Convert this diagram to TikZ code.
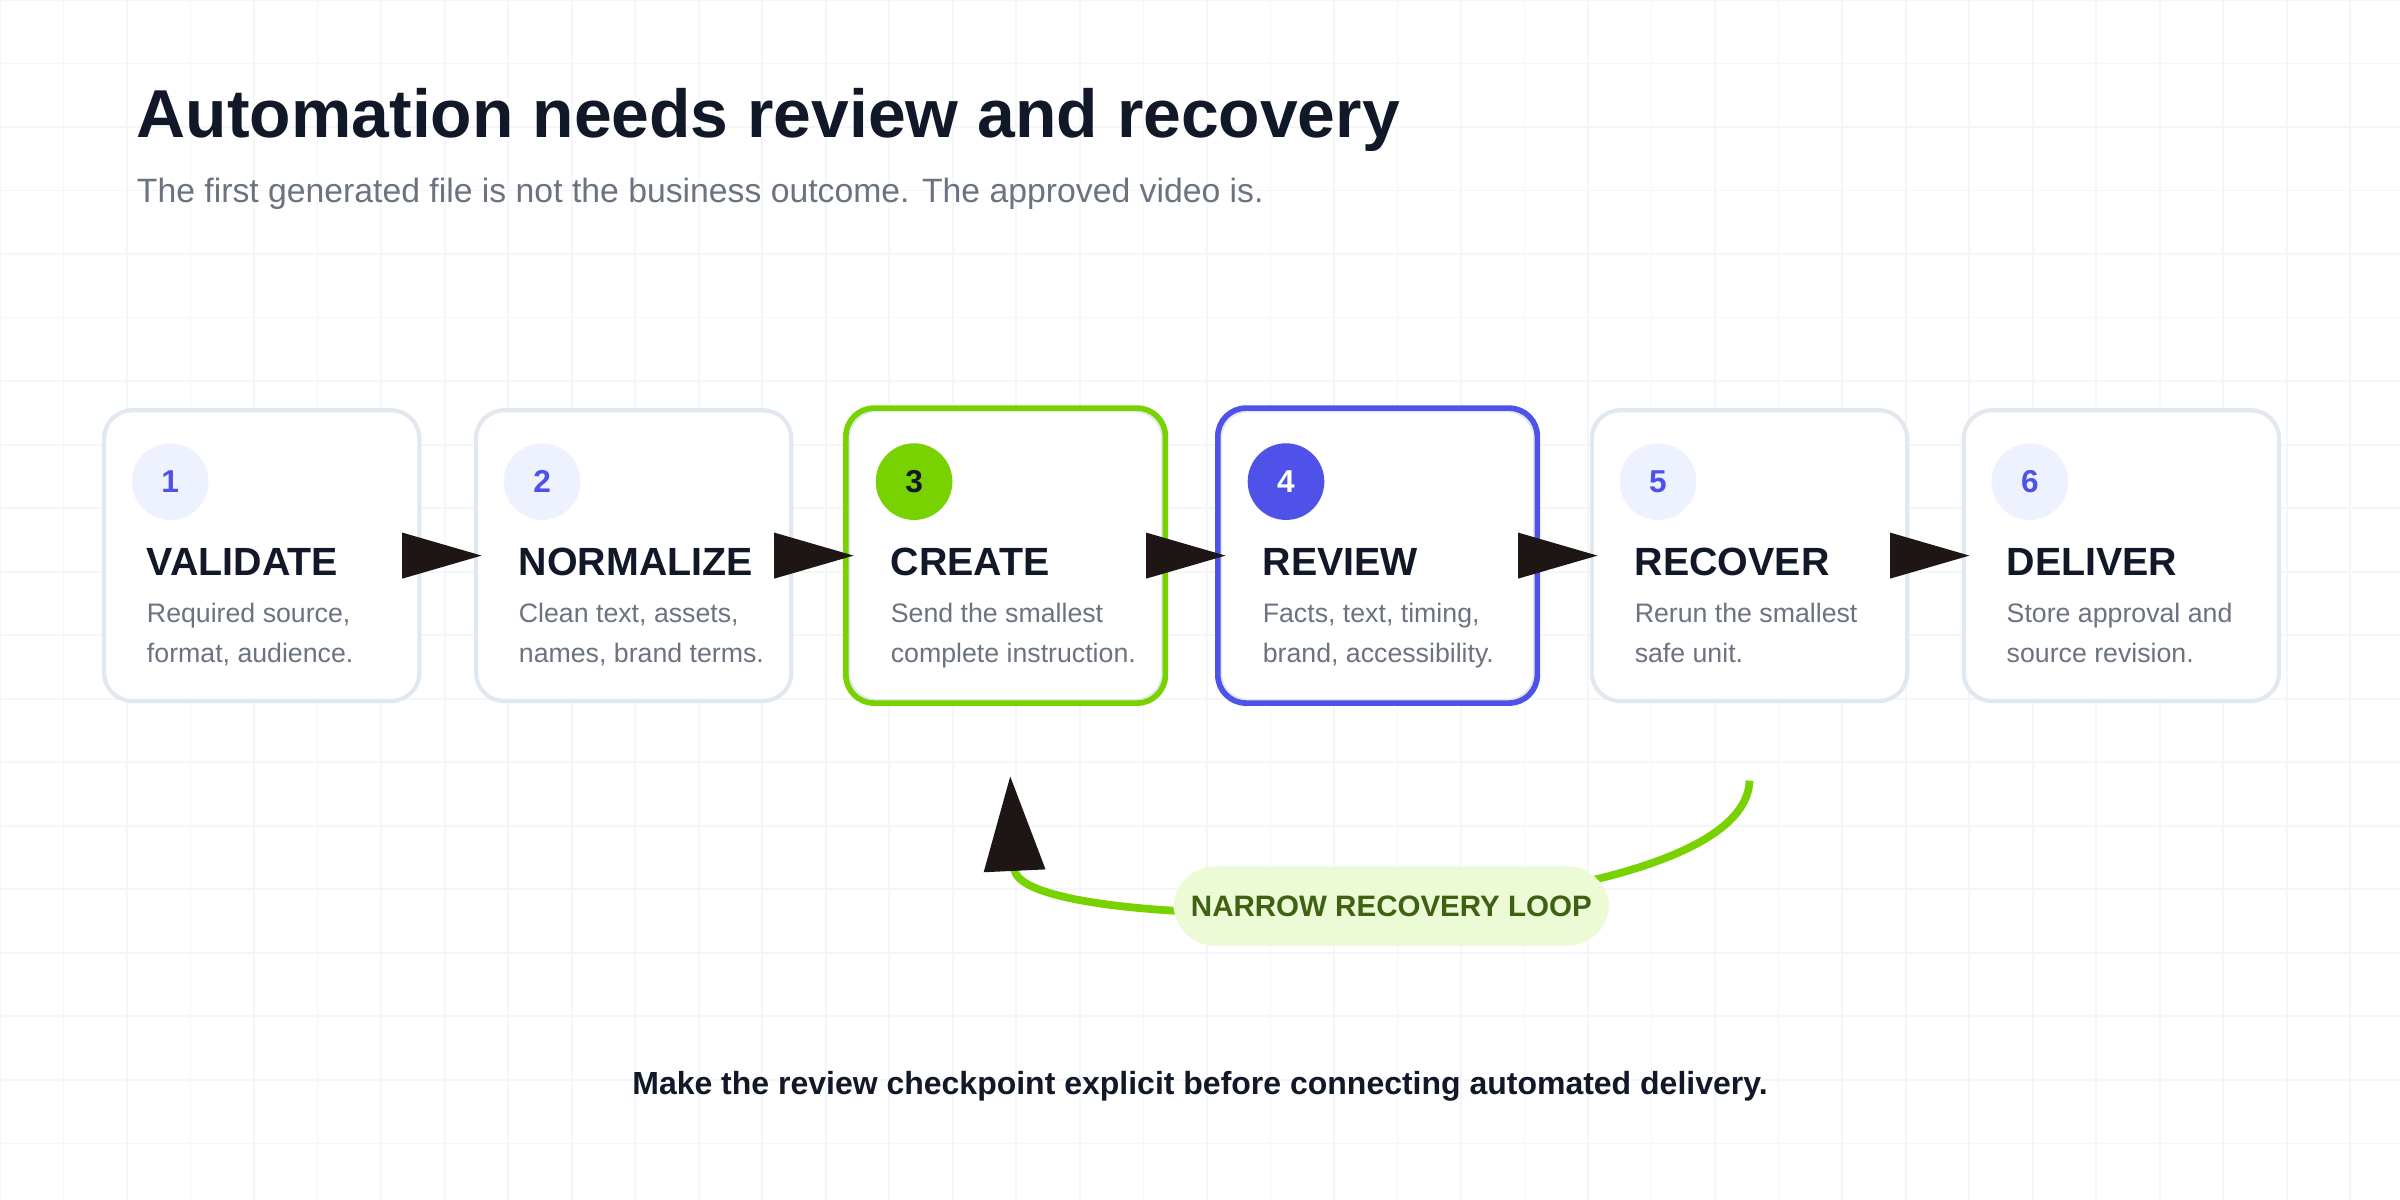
\documentclass[tikz,border=0pt]{standalone}
\usepackage{fontspec}
\setmainfont{Liberation Sans}
\usetikzlibrary{arrows.meta,positioning}
\definecolor{ink}{RGB}{17,24,39}
\definecolor{muted}{RGB}{107,114,128}
\definecolor{rim}{RGB}{226,232,240}
\definecolor{gridc}{RGB}{244,246,248}
\definecolor{lime}{RGB}{119,210,0}
\definecolor{violet}{RGB}{79,82,232}
\definecolor{pale}{RGB}{238,242,255}
\definecolor{pill}{RGB}{236,250,214}
\definecolor{moss}{RGB}{63,98,18}
\definecolor{tipc}{RGB}{30,22,20}
\tikzstyle{card}=[draw=rim, line width=1.2pt, fill=white, rounded corners=8pt, minimum width=89.7pt, minimum height=82.7pt]
\tikzstyle{badge}=[circle, fill=pale, text=violet, minimum size=21.8pt, inner sep=0pt, font=\fontsize{9}{9}\selectfont\bfseries]
\tikzstyle{head}=[anchor=base west, inner sep=0pt, text=ink, font=\fontsize{11.2}{11.2}\selectfont\bfseries]
\tikzstyle{desc}=[anchor=base west, inner sep=0pt, text=muted, align=left, font=\fontsize{7.6}{11.3}\selectfont]
\tikzstyle{flow}=[-{Triangle[length=22.6pt,width=13pt]}, tipc, shorten <=-4.4pt, shorten >=-2.2pt]
\begin{document}
\begin{tikzpicture}[x=0.015306cm,y=-0.015306cm]
    \useasboundingbox[fill=white] (0,0) rectangle (1568,784);
    \foreach \g in {0,...,37} \draw[gridc, line width=0.5pt] (\g*41.5,0) -- (\g*41.5,784);
    \foreach \g in {0,...,18} \draw[gridc, line width=0.5pt] (0,\g*41.5) -- (1568,\g*41.5);
    % title block
    \node[anchor=base west, inner sep=0pt, text=ink, font=\fontsize{19.3}{19.3}\selectfont\bfseries] (title) at (89,90) {Automation needs review and recovery};
    \node[anchor=base west, inner sep=0pt, text=muted, font=\fontsize{9.6}{9.6}\selectfont] (sub) at (89,132) {The first generated file is not the business outcome. The approved video is.};
    % steps
    \foreach \i/\x/\name/\la/\lb in {1/171/VALIDATE/{Required source,}/{format, audience.},
        2/414/NORMALIZE/{Clean text, assets,}/{names, brand terms.},
        3/657/CREATE/{Send the smallest}/{complete instruction.},
        4/900/REVIEW/{Facts, text, timing,}/{brand, accessibility.},
        5/1143/RECOVER/{Rerun the smallest}/{safe unit.},
        6/1386/DELIVER/{Store approval and}/{source revision.}}{
        \node[card] (s\i) at (\x,363) {};
        \node[badge] (n\i) at ([xshift=19.4pt,yshift=-20.9pt]s\i.north west) {\i};
        \node[head] (h\i) at ([xshift=12.6pt,yshift=-47.5pt]s\i.north west) {\name};
        \node[desc] (d\i) at ([xshift=12.6pt,yshift=-72.3pt]s\i.north west) {\la\\\lb};
    }
    \draw[lime, line width=1.6pt, rounded corners=8pt] (s3.north west) rectangle (s3.south east);
    \draw[violet, line width=1.6pt, rounded corners=8pt] (s4.north west) rectangle (s4.south east);
    \node[badge, fill=lime, text=ink] at (n3) {3};
    \node[badge, fill=violet, text=white] at (n4) {4};
    \foreach \a/\b in {1/2,2/3,3/4,4/5,5/6}
        \draw[flow] (s\a.east) -- (s\b.west);
    % recovery loop
    \coordinate (from) at (1143,510);
    \coordinate (back) at (660,507);
    \draw[lime, line width=2.2pt, -{Triangle[length=27pt,width=17pt,color=tipc]}] (from) .. controls (1140,610) and (665,615) .. (back);
    \node[fill=pill, rounded corners=12pt, minimum width=124pt, minimum height=22.6pt, text=moss, font=\fontsize{8.4}{8.4}\selectfont\bfseries] (loop) at (909,592) {NARROW RECOVERY LOOP};
    % footer
    \node[text=ink, font=\fontsize{9.1}{9.1}\selectfont\bfseries] (note) at (784,710) {Make the review checkpoint explicit before connecting automated delivery.};
\end{tikzpicture}
\end{document}
